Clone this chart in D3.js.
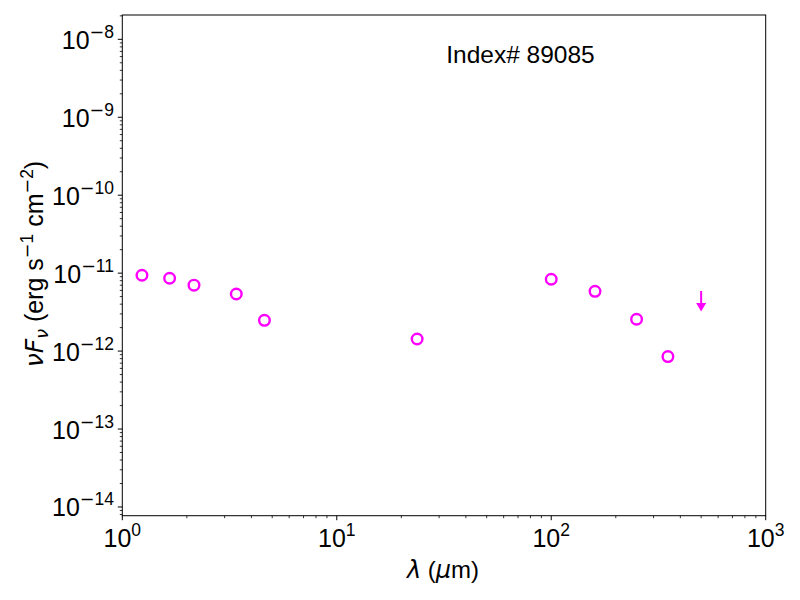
<!DOCTYPE html>
<html><head><meta charset="utf-8">
<script src="https://cdn.jsdelivr.net/npm/d3@7"></script>
<style>body{margin:0;background:#fff;} text{font-family:"Liberation Sans",Arial,sans-serif;} .m{font-family:"DejaVu Sans",sans-serif;}</style>
</head><body>
<svg id="c" width="800" height="600"></svg>
<script>
const wavelengths = [1.235, 1.662, 2.159, 3.4, 4.6, 23.7, 100, 160, 250, 350];
const fluxes = [9.4e-12, 8.6e-12, 7.0e-12, 5.4e-12, 2.48e-12, 1.43e-12, 8.35e-12, 5.85e-12, 2.56e-12, 8.5e-13];
const limitWavelengths = [500];
const limitFluxes = [5.9e-12];
const xTickExps = [0, 1, 2, 3];
const yTickExps = [-8, -9, -10, -11, -12, -13, -14];
const titleText = "Index# 89085";

const svg = d3.select("#c");
const L = 122.3, R = 765.7, T = 15, B = 515.7;
const x = d3.scaleLog().domain([1, 1000]).range([L, R]);
const y = d3.scaleLog().domain([Math.pow(10, -14.112), Math.pow(10, -7.688)]).range([B, T]);
const color = "#ff00ff";

// minor ticks
const xMinor = [], yMinor = [];
for (let e = 0; e < 3; e++) for (let k = 2; k <= 9; k++) xMinor.push(k * Math.pow(10, e));
for (let e = -15; e < -7; e++) for (let k = 2; k <= 9; k++) {
  const v = k * Math.pow(10, e);
  if (v >= y.domain()[0] && v <= y.domain()[1]) yMinor.push(v);
}
const g = svg.append("g");
g.selectAll(".xm").data(xMinor).enter().append("line")
  .attr("x1", d => x(d)).attr("x2", d => x(d)).attr("y1", B).attr("y2", B + 2.5)
  .attr("stroke", "#000").attr("stroke-width", 0.8);
g.selectAll(".ym").data(yMinor).enter().append("line")
  .attr("y1", d => y(d)).attr("y2", d => y(d)).attr("x1", L).attr("x2", L - 2.5)
  .attr("stroke", "#000").attr("stroke-width", 0.8);
g.selectAll(".xM").data(xTickExps).enter().append("line")
  .attr("x1", d => x(Math.pow(10, d))).attr("x2", d => x(Math.pow(10, d))).attr("y1", B).attr("y2", B + 4.5)
  .attr("stroke", "#000").attr("stroke-width", 1);
g.selectAll(".yM").data(yTickExps).enter().append("line")
  .attr("y1", d => y(Math.pow(10, d))).attr("y2", d => y(Math.pow(10, d))).attr("x1", L).attr("x2", L - 4.5)
  .attr("stroke", "#000").attr("stroke-width", 1);

// tick labels
function expLabel(sel, d) {
  sel.append("tspan").text("10");
  const s = sel.append("tspan").attr("dy", -11).attr("font-size", 17.5);
  if (d < 0) { s.append("tspan").attr("class", "m").text("\u2212"); s.append("tspan").text(String(-d)); }
  else s.text(String(d));
}
xTickExps.forEach(d => {
  const t = svg.append("text").attr("x", x(Math.pow(10, d))).attr("y", 546.5).attr("font-size", 25)
    .attr("text-anchor", "middle");
  expLabel(t, d);
});
yTickExps.forEach(d => {
  const t = svg.append("text").attr("x", 114).attr("y", y(Math.pow(10, d)) + 9.5).attr("font-size", 25)
    .attr("text-anchor", "end");
  expLabel(t, d);
});

// frame
svg.append("rect").attr("x", L).attr("y", T).attr("width", R - L).attr("height", B - T)
  .attr("fill", "none").attr("stroke", "#000").attr("stroke-width", 1);

// points
svg.append("g").selectAll("circle").data(wavelengths).enter().append("circle")
  .attr("cx", d => x(d)).attr("cy", (d, i) => y(fluxes[i])).attr("r", 5.3)
  .attr("fill", "none").attr("stroke", color).attr("stroke-width", 2.4);

// upper limits
limitWavelengths.forEach((w, i) => {
  const cx = x(w), cy = y(limitFluxes[i]);
  svg.append("line").attr("x1", cx).attr("x2", cx).attr("y1", cy).attr("y2", cy + 15)
    .attr("stroke", color).attr("stroke-width", 2);
  svg.append("path").attr("d", `M${cx - 5},${cy + 12} L${cx + 5},${cy + 12} L${cx},${cy + 20.5} Z`)
    .attr("fill", color);
});

// title
svg.append("text").attr("x", 520.5).attr("y", 63).attr("font-size", 24.5).attr("text-anchor", "middle").text(titleText);

// x label
const xl = svg.append("text").attr("x", 443).attr("y", 578).attr("font-size", 24).attr("text-anchor", "middle");
xl.append("tspan").attr("class", "m").attr("font-style", "italic").text("\u03bb");
xl.append("tspan").text(" (");
xl.append("tspan").attr("class", "m").attr("font-style", "italic").text("\u03bc");
xl.append("tspan").text("m)");

// y label
const yl = svg.append("text").attr("transform", "translate(43,264) rotate(-90)").attr("font-size", 25).attr("text-anchor", "middle");
yl.append("tspan").attr("class", "m").attr("font-style", "italic").text("\u03bd");
yl.append("tspan").attr("class", "m").attr("font-style", "italic").text("F");
yl.append("tspan").attr("class", "m").attr("font-style", "italic").attr("font-size", 17.5).attr("dy", 5).text("\u03bd");
yl.append("tspan").attr("dy", -5).text(" (erg s");
yl.append("tspan").attr("font-size", 17.5).attr("dy", -10).html('<tspan class="m">\u2212</tspan>1');
yl.append("tspan").attr("dy", 10).text(" cm");
yl.append("tspan").attr("font-size", 17.5).attr("dy", -10).html('<tspan class="m">\u2212</tspan>2');
yl.append("tspan").attr("dy", 10).text(")");
</script>
</body></html>
